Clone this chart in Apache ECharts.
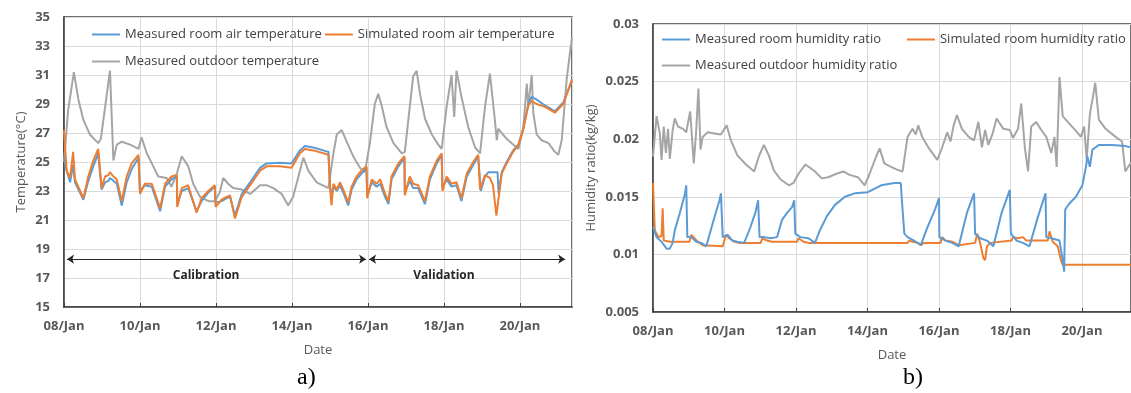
<!DOCTYPE html>
<html>
<head>
<meta charset="utf-8">
<script src="https://cdn.jsdelivr.net/npm/echarts@6/dist/echarts.min.js"></script>
<style>html,body{margin:0;padding:0;background:#fff}#c{width:1131px;height:393px}</style>
</head>
<body>
<div id="c"></div>
<script>
// ---- Data (x = day of January, fractional) ----
const dateTicks = [8, 10, 12, 14, 16, 18, 20];
const dayMin = 8, dayMax = 21.37;

const measuredRoomTemp = [[8.00,25.4],[8.05,24.6],[8.16,23.6],[8.24,24.8],[8.29,23.6],[8.51,22.4],[8.64,23.7],[8.77,24.7],[8.90,25.6],[8.99,23.1],[9.08,23.6],[9.17,23.7],[9.21,23.9],[9.30,23.7],[9.39,23.5],[9.52,22.0],[9.65,23.6],[9.78,24.5],[9.96,25.3],[10.00,23.0],[10.13,23.4],[10.31,23.3],[10.53,21.6],[10.66,23.3],[10.83,23.8],[10.97,24.0],[10.98,22.1],[11.10,23.0],[11.27,23.2],[11.49,21.6],[11.62,22.3],[11.80,22.9],[11.97,23.3],[11.99,22.2],[12.15,22.3],[12.28,22.5],[12.37,22.6],[12.50,21.3],[12.68,22.8],[12.90,23.6],[13.16,24.6],[13.33,24.9],[13.68,24.95],[13.99,24.9],[14.21,25.8],[14.34,26.1],[14.56,26.0],[14.96,25.7],[15.00,23.4],[15.04,22.6],[15.09,23.3],[15.18,23.0],[15.26,23.4],[15.35,22.9],[15.48,22.0],[15.57,23.1],[15.70,23.8],[15.83,24.2],[15.96,24.6],[15.98,22.7],[16.10,23.6],[16.23,23.3],[16.32,23.5],[16.45,22.6],[16.54,22.1],[16.62,23.8],[16.80,24.7],[16.96,25.3],[16.97,22.9],[17.10,23.7],[17.19,23.2],[17.32,23.2],[17.50,22.1],[17.63,23.8],[17.81,24.9],[17.94,25.5],[17.96,23.2],[18.07,23.8],[18.20,23.3],[18.33,23.4],[18.46,22.3],[18.60,24.0],[18.77,24.8],[18.90,25.4],[18.97,23.0],[19.08,24.0],[19.17,24.3],[19.41,24.3],[19.44,22.8],[19.52,24.3],[19.65,25.0],[19.82,25.8],[19.96,26.2],[20.09,27.3],[20.22,29.0],[20.31,29.5],[20.44,29.3],[20.66,28.9],[20.92,28.5],[21.14,29.1],[21.37,30.6]];

const simulatedRoomTemp = [[8.00,27.2],[8.07,24.4],[8.16,23.9],[8.24,25.7],[8.29,23.8],[8.51,22.5],[8.64,24.0],[8.77,25.1],[8.90,25.9],[8.99,23.2],[9.08,24.0],[9.17,24.1],[9.21,24.3],[9.30,24.0],[9.39,23.8],[9.52,22.3],[9.65,24.0],[9.78,24.9],[9.96,25.5],[10.00,22.8],[10.13,23.5],[10.31,23.5],[10.53,21.8],[10.66,23.5],[10.83,24.0],[10.97,24.1],[10.98,21.9],[11.10,23.2],[11.27,23.4],[11.49,21.5],[11.62,22.5],[11.80,23.0],[11.97,23.4],[11.99,21.9],[12.15,22.4],[12.28,22.6],[12.37,22.7],[12.50,21.1],[12.68,22.6],[12.90,23.4],[13.16,24.4],[13.33,24.7],[13.68,24.7],[13.99,24.6],[14.21,25.6],[14.34,25.9],[14.56,25.8],[14.96,25.5],[15.00,23.3],[15.04,22.0],[15.09,23.5],[15.18,23.1],[15.26,23.6],[15.35,23.1],[15.48,22.2],[15.57,23.3],[15.70,24.0],[15.83,24.4],[15.96,24.7],[15.98,22.5],[16.10,23.8],[16.23,23.5],[16.32,23.8],[16.45,22.8],[16.54,22.3],[16.62,24.0],[16.80,24.9],[16.96,25.4],[16.97,22.7],[17.10,24.0],[17.19,23.5],[17.32,23.4],[17.50,22.3],[17.63,24.0],[17.81,25.1],[17.94,25.6],[17.96,23.0],[18.07,24.0],[18.20,23.5],[18.33,23.6],[18.46,22.5],[18.60,24.2],[18.77,25.0],[18.90,25.5],[18.95,23.1],[19.08,24.1],[19.21,23.9],[19.29,23.4],[19.38,21.3],[19.52,24.2],[19.65,24.9],[19.82,25.7],[19.96,26.2],[20.09,27.3],[20.22,28.9],[20.31,29.2],[20.44,29.0],[20.66,28.8],[20.92,28.4],[21.14,29.0],[21.37,30.7]];

const outdoorTemp = [[8.00,25.0],[8.11,28.6],[8.26,31.2],[8.38,29.3],[8.51,27.9],[8.68,26.9],[8.90,26.3],[8.97,26.6],[9.21,31.3],[9.30,25.1],[9.39,26.2],[9.52,26.4],[9.74,26.2],[9.96,25.9],[10.04,26.7],[10.18,25.6],[10.35,24.7],[10.48,24.0],[10.70,23.9],[10.83,23.3],[10.97,24.2],[11.10,25.4],[11.27,24.7],[11.40,23.5],[11.58,22.6],[11.80,22.3],[11.97,22.3],[12.10,22.9],[12.19,23.9],[12.32,23.5],[12.45,23.2],[12.68,23.1],[12.90,22.8],[13.16,23.4],[13.33,23.4],[13.51,23.2],[13.73,22.8],[13.90,22.0],[14.03,22.6],[14.17,24.0],[14.30,25.3],[14.43,24.4],[14.65,23.6],[14.96,23.2],[15.09,25.6],[15.18,26.9],[15.31,27.2],[15.44,26.4],[15.61,25.4],[15.79,24.6],[15.92,24.3],[16.05,26.3],[16.18,29.0],[16.27,29.7],[16.36,28.9],[16.49,27.4],[16.67,26.3],[16.89,25.6],[16.97,25.7],[17.10,28.8],[17.19,30.9],[17.28,31.3],[17.37,29.7],[17.50,28.0],[17.68,26.9],[17.85,26.2],[17.94,25.9],[18.07,28.8],[18.20,31.0],[18.27,28.1],[18.33,31.3],[18.46,29.5],[18.64,27.4],[18.82,26.0],[18.95,25.6],[19.08,28.8],[19.21,31.1],[19.25,31.2],[19.34,27.9],[19.39,26.5],[19.43,27.3],[19.52,27.0],[19.65,26.6],[19.82,26.2],[19.96,25.9],[20.09,27.4],[20.18,30.4],[20.22,28.8],[20.31,31.0],[20.35,28.4],[20.44,26.9],[20.57,26.5],[20.75,26.3],[20.92,25.7],[21.01,25.5],[21.10,26.5],[21.23,30.7],[21.32,32.6],[21.37,33.6]];

const measuredRoomHum = [[8.00,0.0124],[8.10,0.0115],[8.24,0.0111],[8.38,0.0105],[8.47,0.0105],[8.55,0.0110],[8.61,0.0121],[8.75,0.0136],[8.89,0.0152],[8.93,0.0160],[8.96,0.0115],[9.07,0.0115],[9.21,0.0111],[9.35,0.0110],[9.49,0.0107],[9.67,0.0127],[9.86,0.0147],[9.90,0.0153],[9.95,0.0115],[10.09,0.0117],[10.22,0.0112],[10.36,0.0111],[10.55,0.0110],[10.73,0.0124],[10.87,0.0137],[10.94,0.0147],[10.98,0.0115],[11.10,0.0115],[11.29,0.0114],[11.47,0.0115],[11.61,0.0130],[11.75,0.0136],[11.89,0.0141],[11.95,0.0147],[11.98,0.0118],[12.12,0.0115],[12.35,0.0114],[12.53,0.0110],[12.67,0.0121],[12.86,0.0133],[13.09,0.0143],[13.37,0.0150],[13.64,0.0153],[14.01,0.0154],[14.38,0.0160],[14.75,0.0162],[14.93,0.0162],[14.98,0.0139],[15.03,0.0118],[15.12,0.0115],[15.30,0.0112],[15.49,0.0108],[15.67,0.0123],[15.90,0.0140],[16.00,0.0149],[16.01,0.0115],[16.18,0.0112],[16.37,0.0110],[16.55,0.0107],[16.78,0.0136],[16.98,0.0153],[17.01,0.0118],[17.15,0.0114],[17.34,0.0112],[17.52,0.0107],[17.75,0.0136],[17.98,0.0156],[18.01,0.0118],[18.17,0.0112],[18.35,0.0110],[18.53,0.0107],[18.77,0.0133],[18.98,0.0153],[19.00,0.0115],[19.14,0.0114],[19.37,0.0112],[19.46,0.0095],[19.50,0.0085],[19.53,0.0139],[19.64,0.0144],[19.83,0.0150],[20.01,0.0160],[20.11,0.0176],[20.15,0.0185],[20.22,0.0176],[20.29,0.0191],[20.47,0.0195],[20.84,0.0195],[21.21,0.0194],[21.37,0.0193]];

const simulatedRoomHum = [[8.00,0.0162],[8.05,0.0121],[8.15,0.0115],[8.24,0.0116],[8.27,0.0140],[8.30,0.0112],[8.47,0.0111],[9.02,0.0111],[9.07,0.0117],[9.16,0.0114],[9.25,0.0111],[9.39,0.0108],[9.95,0.0107],[10.04,0.0117],[10.13,0.0114],[10.27,0.0111],[10.41,0.0110],[11.01,0.0110],[11.06,0.0114],[11.19,0.0112],[11.33,0.0111],[12.03,0.0111],[12.07,0.0114],[12.21,0.0111],[12.35,0.0110],[15.12,0.0110],[15.17,0.0112],[15.26,0.0111],[15.42,0.0110],[15.49,0.0108],[15.58,0.0110],[16.04,0.0110],[16.09,0.0115],[16.18,0.0112],[16.37,0.0111],[16.55,0.0108],[17.01,0.0110],[17.07,0.0118],[17.15,0.0110],[17.24,0.0097],[17.29,0.0095],[17.34,0.0107],[17.43,0.0110],[18.03,0.0112],[18.07,0.0115],[18.21,0.0114],[18.35,0.0115],[18.44,0.0112],[19.04,0.0112],[19.09,0.0120],[19.18,0.0111],[19.32,0.0107],[19.41,0.0095],[19.46,0.0091],[21.37,0.0091]];

const outdoorHum = [[8.00,0.0185],[8.10,0.0220],[8.19,0.0205],[8.24,0.0182],[8.30,0.0211],[8.36,0.0188],[8.42,0.0209],[8.47,0.0183],[8.55,0.0208],[8.61,0.0218],[8.70,0.0211],[8.84,0.0209],[8.93,0.0206],[9.04,0.0224],[9.14,0.0179],[9.21,0.0208],[9.27,0.0244],[9.33,0.0191],[9.39,0.0202],[9.53,0.0206],[9.72,0.0205],[9.90,0.0204],[10.06,0.0212],[10.18,0.0199],[10.36,0.0186],[10.60,0.0178],[10.83,0.0172],[10.96,0.0185],[11.10,0.0195],[11.24,0.0186],[11.38,0.0173],[11.57,0.0165],[11.80,0.0160],[11.93,0.0162],[12.07,0.0170],[12.26,0.0178],[12.40,0.0175],[12.53,0.0172],[12.72,0.0166],[12.90,0.0167],[13.13,0.0170],[13.32,0.0172],[13.50,0.0169],[13.73,0.0167],[13.92,0.0160],[14.06,0.0170],[14.24,0.0185],[14.34,0.0192],[14.47,0.0179],[14.66,0.0176],[14.79,0.0174],[14.98,0.0172],[15.12,0.0202],[15.26,0.0209],[15.35,0.0204],[15.42,0.0212],[15.53,0.0202],[15.72,0.0192],[15.95,0.0182],[16.09,0.0193],[16.23,0.0206],[16.32,0.0198],[16.41,0.0212],[16.50,0.0221],[16.64,0.0209],[16.83,0.0202],[16.98,0.0199],[17.10,0.0215],[17.20,0.0193],[17.29,0.0208],[17.38,0.0195],[17.50,0.0205],[17.61,0.0218],[17.80,0.0209],[17.98,0.0208],[18.07,0.0201],[18.21,0.0209],[18.30,0.0231],[18.40,0.0193],[18.49,0.0172],[18.58,0.0211],[18.72,0.0215],[18.86,0.0208],[19.00,0.0202],[19.14,0.0188],[19.23,0.0202],[19.29,0.0176],[19.37,0.0254],[19.46,0.0220],[19.60,0.0215],[19.78,0.0209],[19.97,0.0202],[20.06,0.0211],[20.13,0.0182],[20.22,0.0222],[20.29,0.0234],[20.37,0.0249],[20.47,0.0217],[20.66,0.0209],[20.94,0.0202],[21.12,0.0198],[21.21,0.0172],[21.37,0.0180]];

// Period annotations (day ranges, arrow level, label positions)
const periodArrows = [[8.08, 15.95], [16.03, 21.19]];
const arrowLevel = 18.3;
const periodLabels = [['Calibration', 11.74, 17.2], ['Validation', 18.0, 17.2]];

const names = {
  mrt: 'Measured room air temperature', srt: 'Simulated room air temperature', ot: 'Measured outdoor temperature',
  mrh: 'Measured room humidity ratio', srh: 'Simulated room humidity ratio', oh: 'Measured outdoor humidity ratio'
};
const C = { blue: '#5B9BD5', orange: '#ED7D31', gray: '#A5A5A5' };
const FONT = 'Open Sans';
const txt = { color: '#404040', fontSize: 13, fontFamily: FONT };
const tickTxt = { color: '#595959', fontSize: 13, fontFamily: FONT, fontWeight: 'bold' };

const chart = echarts.init(document.getElementById('c'), null, { renderer: 'canvas' });
const pad2 = v => (v < 10 ? '0' : '') + v;

function xAx(gi, nameGap) {
  return {
    gridIndex: gi, type: 'value', min: dayMin, max: dayMax, interval: 2,
    name: 'Date', nameLocation: 'middle', nameGap: nameGap, nameTextStyle: { color: '#595959', fontSize: 13, fontFamily: FONT },
    axisLine: { lineStyle: { color: '#404040', width: 1.5 } },
    axisTick: { inside: true, length: 4, lineStyle: { color: '#404040' } },
    axisLabel: Object.assign({ margin: 13, showMaxLabel: false, formatter: v => dateTicks.indexOf(v) >= 0 ? pad2(v) + '/Jan' : '' }, tickTxt),
    splitLine: { show: true, lineStyle: { color: '#D9D9D9', width: 1 } }
  };
}
function yAx(gi, min, max, interval, name, nameGap) {
  return {
    gridIndex: gi, type: 'value', min: min, max: max, interval: interval,
    name: name, nameLocation: 'middle', nameGap: nameGap, nameTextStyle: { color: '#595959', fontSize: 13, fontFamily: FONT },
    axisLine: { show: true, lineStyle: { color: '#404040', width: 1.5 } },
    axisTick: { show: false },
    axisLabel: Object.assign({ margin: 14 }, tickTxt),
    splitLine: { show: true, lineStyle: { color: '#D9D9D9', width: 1 } }
  };
}
function line(name, data, color, xi) {
  return { name: name, type: 'line', data: data, xAxisIndex: xi, yAxisIndex: xi, symbol: 'none', showSymbol: false,
    lineStyle: { color: color, width: 2 }, itemStyle: { color: color }, animation: false };
}
const legendBase = { itemWidth: 28, itemHeight: 2, icon: 'rect', textStyle: txt, padding: 0 };

const outdoorSeries = line(names.ot, outdoorTemp, C.gray, 0);
outdoorSeries.markLine = {
  silent: true, animation: false, symbol: ['arrow', 'arrow'], symbolSize: 7,
  label: { show: false },
  lineStyle: { color: '#262626', width: 1, type: 'solid' },
  data: periodArrows.map(a => [{ coord: [a[0], arrowLevel] }, { coord: [a[1], arrowLevel] }])
};
outdoorSeries.markPoint = {
  silent: true, animation: false, symbolSize: 0,
  label: { show: true, position: 'inside', formatter: '{b}', color: '#262626', fontSize: 12, fontWeight: 'bold', fontFamily: FONT },
  data: periodLabels.map(p => ({ name: p[0], coord: [p[1], p[2]] }))
};

chart.setOption({
  animation: false,
  title: [
    { text: 'a)', left: 297, top: 366, padding: 0, textStyle: { fontFamily: 'Liberation Serif', fontSize: 24, fontWeight: 'normal', color: '#000' } },
    { text: 'b)', left: 903, top: 366, padding: 0, textStyle: { fontFamily: 'Liberation Serif', fontSize: 24, fontWeight: 'normal', color: '#000' } }
  ],
  grid: [
    { left: 64, right: 559, top: 17, bottom: 86, show: true, borderColor: '#404040', borderWidth: 1.5 },
    { left: 653, right: -5, top: 24, bottom: 81, show: true, borderColor: '#404040', borderWidth: 1.5 }
  ],
  legend: [
    Object.assign({ data: [names.mrt, names.srt], left: 92, top: 28, itemGap: 3 }, legendBase),
    Object.assign({ data: [names.ot], left: 92, top: 55 }, legendBase),
    Object.assign({ data: [names.mrh, names.srh], left: 662, top: 33, itemGap: 26 }, legendBase),
    Object.assign({ data: [names.oh], left: 662, top: 59 }, legendBase)
  ],
  xAxis: [xAx(0, 37), xAx(1, 37)],
  yAxis: [
    yAx(0, 15, 35, 2, 'Temperature(°C)', 36),
    yAx(1, 0.005, 0.03, 0.005, 'Humidity ratio(kg/kg)', 55)
  ],
  series: [
    outdoorSeries,
    line(names.mrt, measuredRoomTemp, C.blue, 0),
    line(names.srt, simulatedRoomTemp, C.orange, 0),
    line(names.oh, outdoorHum, C.gray, 1),
    line(names.srh, simulatedRoomHum, C.orange, 1),
    line(names.mrh, measuredRoomHum, C.blue, 1)
  ]
});
</script>
</body>
</html>
